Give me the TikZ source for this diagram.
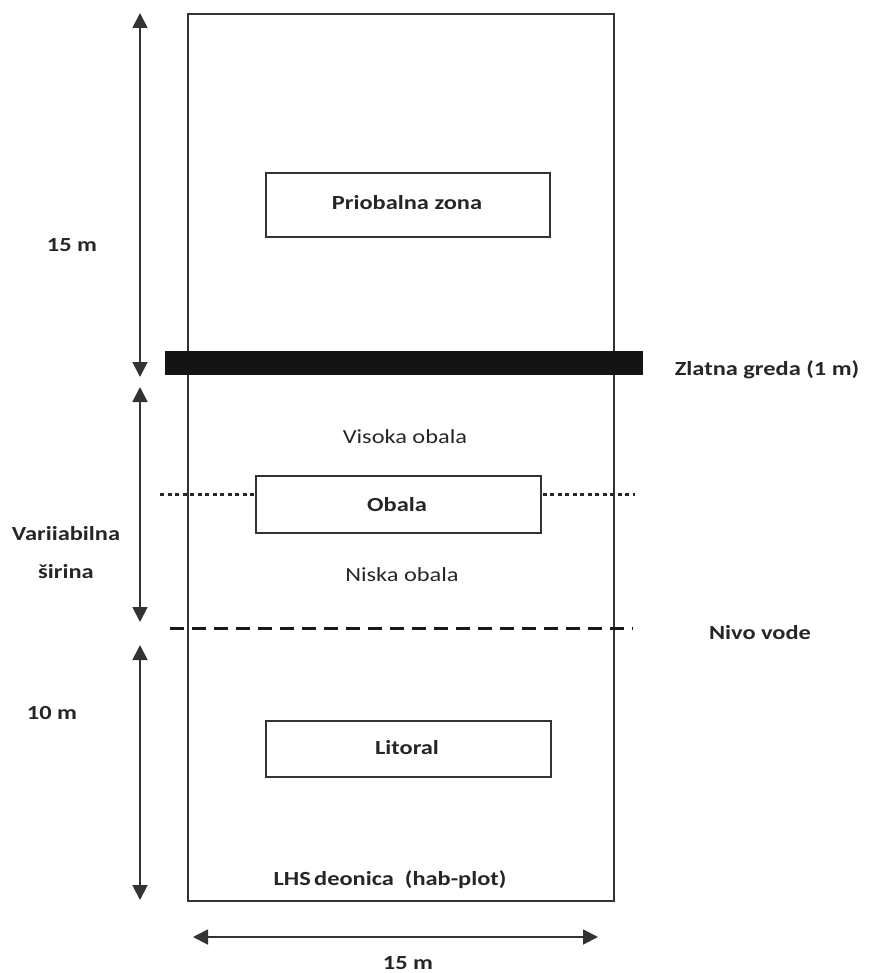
\documentclass[tikz,border=0pt]{standalone}
\usepackage{fontspec}
\setmainfont{Carlito}[FakeStretch=1.22]
\usetikzlibrary{arrows.meta}
\begin{document}
\begin{tikzpicture}[x=1pt,y=-1pt,
  ln/.style={draw=black!80, line width=1.8pt},
  zbox/.style={draw=black!80, line width=1.8pt, fill=white},
  lbl/.style={font=\fontsize{20}{23}\selectfont\bfseries, text=black!85},
  rlbl/.style={font=\fontsize{20}{23}\selectfont, text=black!85},
  dim/.style={draw=black!80, line width=1.8pt, {Triangle[width=15pt,length=15pt]}-{Triangle[width=15pt,length=15pt]}}
]
\useasboundingbox (0,0) rectangle (869,973);
% main plot
\node[ln, minimum width=426pt, minimum height=887pt, inner sep=0pt, anchor=north west] (plot) at (187,13) {};
% dotted line (behind the Obala box)
\coordinate (dotL) at (160,494);
\coordinate (dotR) at (635,494);
\draw[black!85, line width=3pt, dash pattern=on 4pt off 3.5pt] (dotL) -- (dotR);
% boxes
\node[zbox, minimum width=284pt, minimum height=64pt, anchor=north west] (prio) at (265,172) {};
\node[lbl] (priot) at (407,203) {Priobalna zona};
\node[zbox, minimum width=285pt, minimum height=57pt, anchor=north west] (obala) at (255,475) {};
\node[lbl] (obalat) at (397,505) {Obala};
\node[zbox, minimum width=285pt, minimum height=56pt, anchor=north west] (lit) at (265,720) {};
\node[lbl] (litt) at (407,748) {Litoral};
% golden beam
\node[fill=black!92, minimum width=478pt, minimum height=24pt, inner sep=0pt, anchor=north west] (beam) at (165,351) {};
% water level
\coordinate (wL) at (170,628);
\coordinate (wR) at (633,628);
\draw[black!90, line width=3pt, dash pattern=on 14pt off 8pt] (wL) -- (wR);
% dimension arrows
\coordinate (a1t) at (140,13);
\coordinate (a1b) at (140,377);
\coordinate (a2t) at (140,387);
\coordinate (a2b) at (140,622);
\coordinate (a3t) at (140,645);
\coordinate (a3b) at (140,900);
\coordinate (hL) at (193,937);
\coordinate (hR) at (598,937);
\draw[dim] (a1t) -- (a1b);
\draw[dim] (a2t) -- (a2b);
\draw[dim] (a3t) -- (a3b);
\draw[dim] (hL) -- (hR);
% labels
\node[lbl] (l15a) at (72,245) {15 m};
\node[lbl] (zlat) at (767,370) {Zlatna greda (1 m)};
\node[rlbl] (viso) at (405,437) {Visoka obala};
\node[lbl, align=center] (var) at (66,553) {Variiabilna\\[15pt]širina};
\node[rlbl] (nisk) at (402,575) {Niska obala};
\node[lbl] (nivo) at (760,633) {Nivo vode};
\node[lbl] (l10) at (52,713) {10 m};
\node[lbl] (lhs) at (390,880) {LHS\,deonica\ \ (hab-plot)};
\node[lbl] (l15b) at (408,963) {15 m};
\end{tikzpicture}
\end{document}
